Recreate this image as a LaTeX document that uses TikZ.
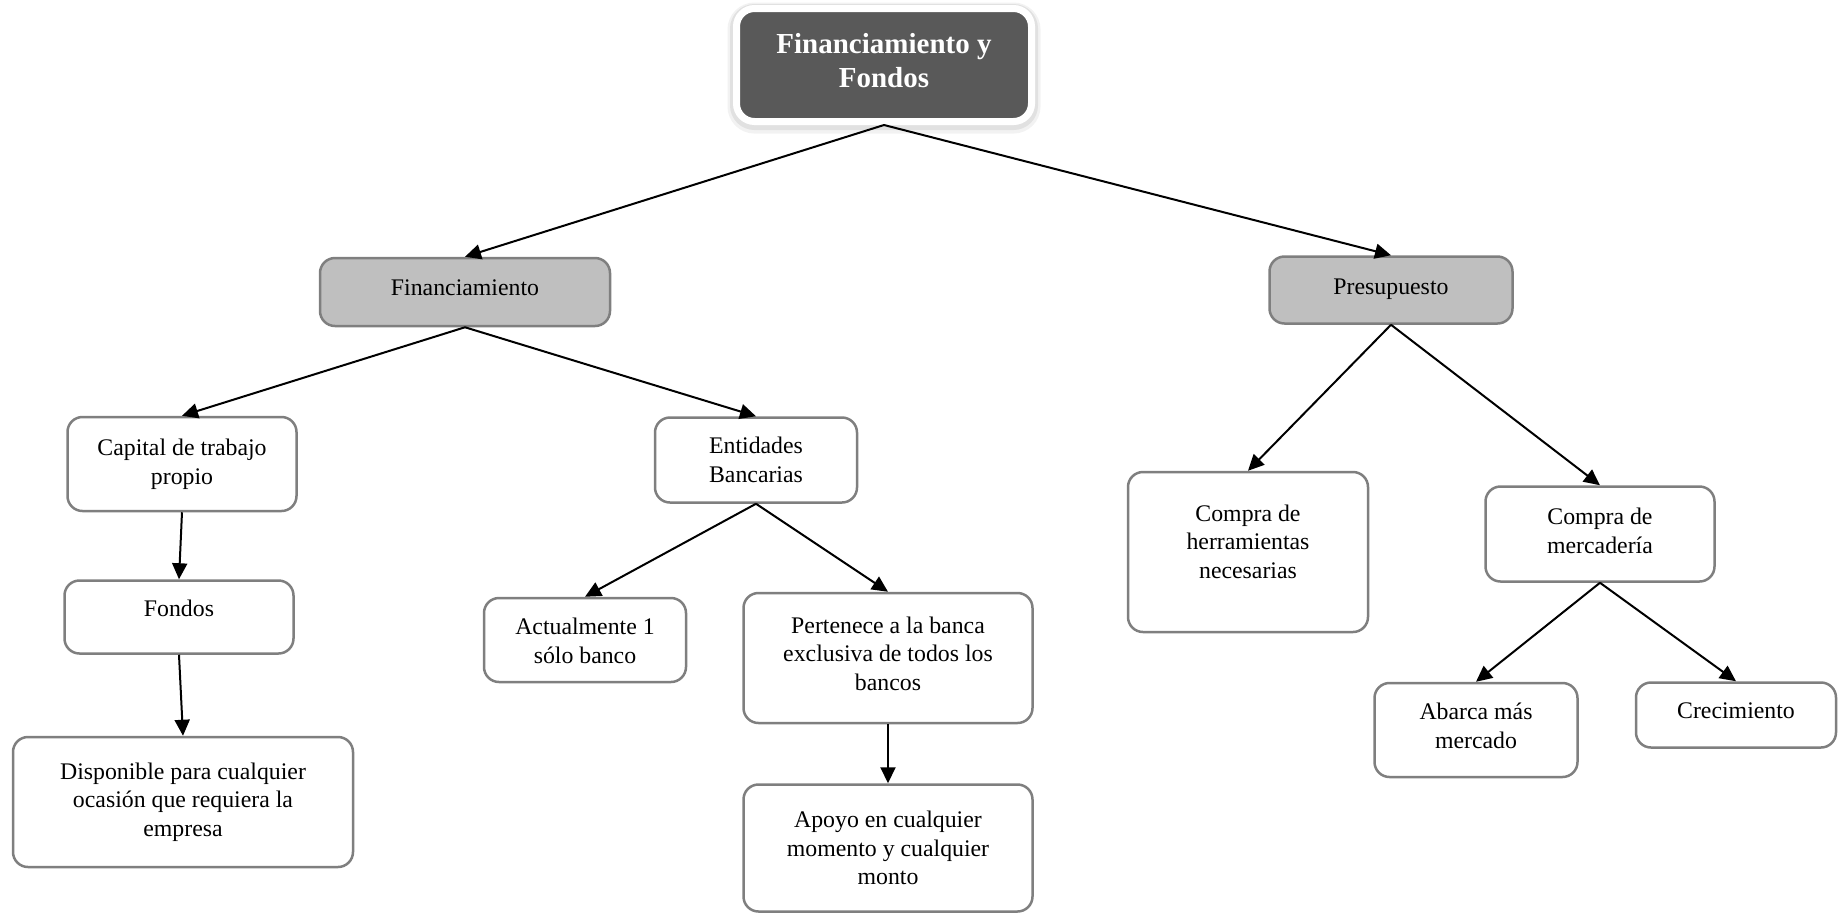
\documentclass[tikz,border=0pt]{standalone}
\usepackage{fontspec}
\setmainfont{Liberation Serif}
\usetikzlibrary{arrows.meta,shadows}
\definecolor{boxline}{HTML}{7F7F7F}
\definecolor{boxgray}{HTML}{BFBFBF}
\definecolor{topfill}{HTML}{595959}
\newcommand{\txup}[2]{\raisebox{0pt}[\height][\dimexpr\depth+#1\relax]{\begin{tabular}{@{}c@{}}#2\end{tabular}}}
\newcommand{\txdn}[2]{\raisebox{0pt}[\dimexpr\height+#1\relax][\depth]{\begin{tabular}{@{}c@{}}#2\end{tabular}}}
\begin{document}
\begin{tikzpicture}[x=0.5pt,y=-0.5pt,
  box/.style={draw=boxline, line width=1.25pt, rounded corners=7.5pt, fill=white,
    align=center, inner sep=0pt, font=\fontsize{11.9}{14.35}\selectfont},
  graybox/.style={box, fill=boxgray},
  topbox/.style={draw=white, line width=3.5pt, rounded corners=9pt, fill=topfill,
    text=white, align=center, inner sep=0pt,
    font=\fontsize{14.5}{17}\selectfont\bfseries,
    general shadow={draw=black, fill=none, line width=9pt, opacity=0.05, shadow yshift=-1.5pt},
    general shadow={draw=black, fill=none, line width=6.5pt, opacity=0.07, shadow yshift=-1pt}},
  conn/.style={line width=1pt, -{Triangle[length=8pt,width=7.5pt]}}
]
\useasboundingbox (0,0) rectangle (1838,912);

\node[topbox, minimum width=147.5pt, minimum height=56.5pt] (top) at (884,65) {\txup{1pt}{Financiamiento y\\Fondos}};

\node[graybox, minimum width=145pt, minimum height=34pt] (fin) at (465,292) {\txup{2pt}{Financiamiento}};
\node[graybox, minimum width=121.5pt, minimum height=33.5pt] (pre) at (1391,290) {\txup{1pt}{Presupuesto}};

\node[box, minimum width=114.5pt, minimum height=47pt] (cap) at (182,464) {Capital de trabajo\\propio};
\node[box, minimum width=114.5pt, minimum height=36.5pt] (fon) at (179,617) {\txup{6pt}{Fondos}};
\node[box, minimum width=170pt, minimum height=65pt] (dis) at (183,802) {Disponible para cualquier\\ocasión que requiera la\\empresa};

\node[box, minimum width=101pt, minimum height=42.5pt] (ent) at (756,460) {\txdn{2pt}{Entidades\\Bancarias}};
\node[box, minimum width=101pt, minimum height=42pt] (act) at (585,640) {\txdn{3pt}{Actualmente 1\\sólo banco}};
\node[box, minimum width=144.5pt, minimum height=65pt] (per) at (888,658) {\txup{2pt}{Pertenece a la banca\\exclusiva de todos los\\bancos}};
\node[box, minimum width=144.5pt, minimum height=63.5pt] (apo) at (888,848) {Apoyo en cualquier\\momento y cualquier\\monto};

\node[box, minimum width=120pt, minimum height=80pt] (her) at (1248,552) {\txup{8pt}{Compra de\\herramientas\\necesarias}};
\node[box, minimum width=114.5pt, minimum height=47.5pt] (mer) at (1600,534) {\txup{1pt}{Compra de\\mercadería}};
\node[box, minimum width=101.5pt, minimum height=47pt] (aba) at (1476,730) {\txup{2pt}{Abarca más\\mercado}};
\node[box, minimum width=100pt, minimum height=32.5pt] (cre) at (1736,715) {\txup{2pt}{Crecimiento}};

\draw[conn] (top.south) -- (fin.north);
\draw[conn] (top.south) -- (pre.north);
\draw[conn] (fin.south) -- (cap.north);
\draw[conn] (fin.south) -- (ent.north);
\draw[conn] (cap.south) -- (fon.north);
\draw[conn] (fon.south) -- (dis.north);
\draw[conn] (ent.south) -- (act.north);
\draw[conn] (ent.south) -- (per.north);
\draw[conn] (per.south) -- (apo.north);
\draw[conn] (pre.south) -- (her.north);
\draw[conn] (pre.south) -- (mer.north);
\draw[conn] (mer.south) -- (aba.north);
\draw[conn] (mer.south) -- (cre.north);
\end{tikzpicture}
\end{document}
